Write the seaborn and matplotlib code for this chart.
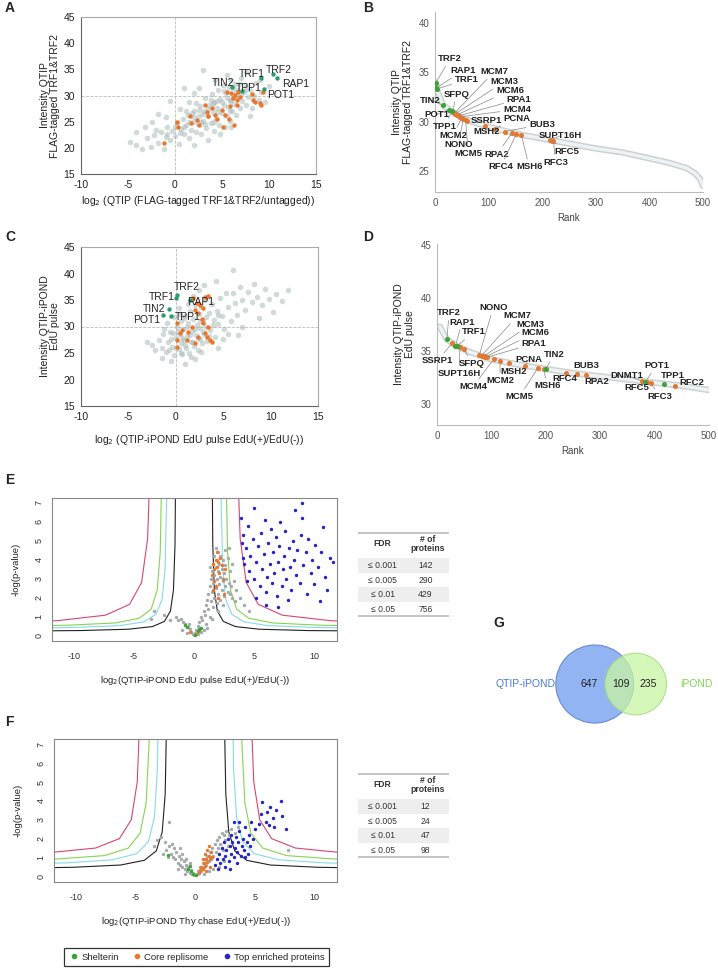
import numpy as np
import seaborn as sns
import matplotlib.pyplot as plt
from matplotlib.lines import Line2D
from matplotlib.patches import Circle

# ---------------- panel A: QTIP intensity vs enrichment ----------------
a_bg = [(-4.8, 21.2), (-4.2, 20.5), (-3.5, 19.8), (-3.0, 21.8), (-2.6, 20.2), (-2.2, 22.5), (-1.8, 21.0),
        (-1.5, 23.0), (-1.2, 19.8), (-1.0, 22.0), (-0.8, 24.0), (-0.5, 21.5), (-0.3, 23.2), (0.0, 22.2),
        (0.2, 24.8), (0.4, 20.8), (0.6, 23.6), (0.8, 25.5), (1.0, 22.6), (1.2, 24.3), (1.4, 26.2), (1.5, 21.9),
        (1.7, 23.4), (1.9, 25.0), (2.0, 27.0), (2.2, 23.0), (2.4, 24.6), (2.5, 26.0), (2.7, 28.0), (2.8, 22.6),
        (3.0, 25.2), (3.1, 27.0), (3.2, 29.5), (3.3, 23.8), (3.5, 26.0), (3.6, 28.2), (3.8, 24.8), (3.9, 30.2),
        (4.0, 26.8), (4.1, 23.2), (4.2, 28.8), (4.4, 25.6), (4.5, 27.6), (4.6, 31.0), (4.7, 24.4), (4.8, 29.4),
        (5.0, 26.6), (5.1, 32.0), (5.2, 28.2), (5.3, 24.0), (5.4, 30.4), (5.5, 26.0), (5.6, 27.8), (5.7, 31.6),
        (5.8, 29.0), (5.9, 25.2), (6.0, 33.0), (6.1, 27.0), (6.2, 30.0), (6.3, 28.4), (6.4, 32.2), (6.5, 26.2),
        (6.6, 29.6), (6.7, 31.0), (6.9, 27.6), (7.0, 33.4), (7.1, 29.0), (7.3, 30.6), (7.5, 28.2), (7.6, 32.0),
        (7.8, 29.8), (8.0, 31.0), (8.2, 27.6), (8.4, 30.0), (8.6, 32.4), (8.9, 29.2), (9.2, 30.6), (9.6, 28.8),
        (3.0, 34.8), (1.0, 31.5), (-0.5, 29.0), (2.0, 30.5), (-1.8, 26.5), (-3.2, 24.0), (0.5, 27.5), (1.5, 28.8),
        (2.6, 31.5), (4.3, 33.0), (5.5, 34.0), (-4.2, 23.0), (-2.5, 25.0), (-1.0, 25.8), (7.5, 34.5), (9.0, 33.0),
        (6.0, 24.0), (4.8, 22.6), (3.5, 21.5), (2.0, 20.5), (8.0, 26.0), (10.0, 31.8),
        (0.5, 22.8), (1.0, 24.0), (1.5, 25.0), (2.0, 25.8), (2.5, 27.2), (3.0, 26.4), (3.5, 27.4), (4.0, 28.4),
        (4.5, 29.0), (5.0, 28.8), (5.5, 29.6), (6.0, 29.2), (6.5, 30.6), (7.0, 30.2), (7.5, 31.2), (3.8, 29.2),
        (2.8, 25.0), (1.8, 26.6), (4.6, 26.8), (5.2, 30.8), (6.8, 32.2), (0.0, 24.0), (-0.8, 22.6), (-2.0, 23.4),
        (3.2, 24.6), (4.2, 25.0), (5.8, 27.0), (2.2, 28.6), (1.2, 27.0), (6.2, 31.4)]
a_rep = [(-1.17, 21.0), (0.18, 25.0), (0.35, 23.9), (1.6, 26.1), (1.7, 24.7), (2.3, 25.3), (2.5, 24.4),
         (3.2, 28.2), (3.4, 26.9), (3.5, 26.0), (3.9, 27.6), (4.3, 26.3), (4.5, 25.6), (5.0, 27.2), (5.1, 24.0),
         (5.3, 26.3), (5.5, 30.7), (5.7, 25.6), (5.85, 27.9), (6.0, 30.4), (6.2, 29.5), (6.3, 24.4), (6.4, 30.1),
         (6.6, 29.2), (6.6, 28.2), (6.7, 30.7), (6.9, 29.8), (8.2, 30.3), (8.3, 29.2), (8.5, 28.8), (9.0, 28.6),
         (9.1, 28.2), (9.4, 30.7)]
a_shel_names = ['TRF1', 'TRF2', 'RAP1', 'POT1', 'TPP1', 'TIN2']
a_shel = [(9.2, 33.4), (10.4, 34.1), (10.9, 33.3), (9.5, 31.2), (7.1, 30.9), (6.1, 31.6)]
a_shel_text = [(8.2, 34.1), (11.0, 34.9), (12.8, 32.2), (11.2, 30.1), (7.9, 31.4), (5.1, 32.3)]

# ---------------- panel C: QTIP-iPOND EdU pulse ----------------
c_bg = [(-2.5, 26.5), (-2.2, 25.5), (-1.8, 27.5), (-1.5, 26.0), (-1.3, 28.5), (-1.0, 25.2), (-0.8, 27.0),
        (-0.6, 29.0), (-0.4, 26.2), (-0.2, 24.6), (0.0, 27.8), (0.1, 30.0), (0.3, 25.8), (0.4, 28.6), (0.5, 26.8),
        (0.6, 31.0), (0.7, 24.8), (0.8, 29.6), (0.9, 27.4), (1.0, 32.0), (1.1, 26.0), (1.2, 28.2), (1.3, 30.6),
        (1.4, 25.0), (1.5, 33.0), (1.6, 27.0), (1.7, 29.2), (1.8, 31.4), (1.9, 26.4), (2.0, 34.0), (2.1, 28.4),
        (2.2, 30.2), (2.3, 25.6), (2.4, 32.4), (2.5, 27.6), (2.6, 29.8), (2.7, 33.6), (2.8, 26.8), (2.9, 31.0),
        (3.0, 28.6), (3.1, 35.0), (3.2, 30.0), (3.3, 27.2), (3.5, 32.6), (3.6, 29.4), (3.8, 34.2), (4.0, 31.2),
        (4.1, 28.0), (4.3, 33.0), (4.5, 30.4), (4.7, 35.4), (4.9, 32.0), (5.1, 29.6), (5.3, 36.4), (5.5, 33.6),
        (5.8, 31.0), (6.0, 36.3), (6.0, 40.7), (6.2, 34.4), (6.5, 32.2), (6.8, 37.4), (7.0, 35.0), (7.3, 33.2),
        (7.6, 36.6), (8.0, 34.6), (8.3, 38.0), (8.6, 35.6), (9.1, 34.1), (9.4, 37.0), (9.8, 35.2), (10.3, 32.8),
        (10.6, 36.2), (11.2, 34.8), (11.8, 36.8), (7.0, 30.0), (5.0, 27.6), (-0.5, 23.4), (1.0, 23.0), (2.0, 23.8),
        (-1.5, 24.0), (0.3, 33.4), (-0.2, 31.8), (1.8, 35.8), (3.0, 37.8), (4.5, 26.0), (-3.0, 27.0), (2.4, 36.8),
        (5.5, 28.6), (-0.9, 30.6), (6.6, 28.4), (4.2, 38.6), (8.8, 31.6),
        (-0.5, 27.6), (0.0, 26.0), (0.2, 29.0), (0.5, 25.0), (0.7, 27.9), (1.0, 26.6), (1.2, 30.0), (1.5, 28.4),
        (1.8, 27.0), (2.0, 29.6), (2.3, 27.8), (2.6, 31.0), (2.9, 29.0), (3.2, 31.8), (3.5, 28.2), (0.9, 31.6),
        (-1.2, 29.6), (-0.3, 28.8), (1.6, 24.2), (2.7, 25.2), (3.9, 30.2), (4.4, 32.2), (0.4, 32.4), (1.3, 34.2),
        (-0.7, 25.6)]
c_rep = [(0.09, 30.6), (0.09, 27.45), (0.09, 26.2), (0.44, 28.7), (1.32, 29.0), (1.68, 30.0), (2.03, 33.1),
         (2.2, 34.4), (2.37, 32.5), (2.73, 31.5), (2.9, 30.6), (3.08, 35.6), (3.43, 35.75), (3.08, 28.7),
         (3.26, 28.1), (3.6, 27.45), (3.8, 27.1), (2.37, 28.1), (2.03, 26.8), (3.43, 30.0), (1.85, 35.3),
         (2.55, 34.0), (2.9, 33.4), (1.15, 27.45), (0.62, 29.3)]
c_shel_names = ['TRF2', 'TRF1', 'RAP1', 'TIN2', 'POT1', 'TPP1']
c_shel = [(0.16, 35.9), (0.0, 35.3), (1.5, 35.0), (-0.68, 33.3), (-1.3, 32.2), (-0.54, 32.0)]
c_shel_text = [(1.15, 37.5), (-1.5, 35.5), (2.6, 34.7), (-2.3, 33.3), (-3.1, 31.2), (1.3, 31.85)]

# ---------------- panel B: rank plot QTIP ----------------
b_curve_rank = [1, 5, 15, 30, 50, 75, 100, 150, 200, 250, 300, 350, 400, 440, 470, 485, 495, 500]
b_curve_int = [34.0, 33.0, 31.7, 31.1, 30.4, 29.9, 29.5, 28.8, 28.3, 27.8, 27.3, 26.9, 26.3, 25.8, 25.3, 24.8, 24.2, 23.5]
b_names = ['TRF2', 'RAP1', 'TRF1', 'TIN2', 'POT1', 'TPP1', 'SFPQ', 'MCM7', 'MCM3', 'MCM6', 'RPA1', 'MCM4',
           'MCM2', 'NONO', 'MCM5', 'SSRP1', 'MSH2', 'PCNA', 'BUB3', 'RPA2', 'RFC4', 'MSH6', 'SUPT16H', 'RFC5', 'RFC3']
b_shelterin = 6
b_rank = [1, 2, 3, 14, 26, 31, 33, 36, 38, 41, 44, 47, 50, 53, 57, 60, 93, 112, 130, 144, 152, 161, 215, 218, 221]
b_int = [33.9, 33.4, 33.3, 31.7, 31.2, 31.05, 30.95, 30.85, 30.8, 30.7, 30.6, 30.5, 30.4, 30.3, 30.2, 30.1,
         29.6, 29.3, 29.0, 28.9, 28.8, 28.7, 28.15, 28.1, 28.05]
b_text = [(6, 36.4), (29, 35.2), (37, 34.3), (-28, 32.2), (-20, 30.75), (-4, 29.57), (15.5, 32.8), (85, 35.1),
          (104, 34.1), (115, 33.2), (134, 32.3), (127, 31.25), (7.5, 28.66), (17, 27.75), (36, 26.8), (67, 30.1),
          (71.5, 29.0), (127.5, 30.35), (176, 29.74), (93, 26.74), (99.5, 25.45), (151, 25.45), (194, 28.59),
          (222.7, 26.97), (202, 25.9)]

# ---------------- panel D: rank plot QTIP-iPOND ----------------
d_curve_rank = [5, 18, 35, 60, 100, 150, 200, 250, 300, 350, 400, 450, 500]
d_curve_int = [37.3, 36.1, 35.5, 34.9, 34.2, 33.7, 33.3, 32.9, 32.6, 32.3, 32.0, 31.7, 31.3]
d_names = ['TRF2', 'RAP1', 'TRF1', 'TIN2', 'POT1', 'TPP1', 'SSRP1', 'SUPT16H', 'SFPQ', 'NONO', 'MCM7', 'MCM3',
           'MCM6', 'RPA1', 'MCM4', 'MCM2', 'MSH2', 'PCNA', 'MCM5', 'MSH6', 'RFC4', 'BUB3', 'RPA2', 'DNMT1',
           'RFC5', 'RFC3', 'RFC2']
d_shelterin = 6
d_rank = [18, 34, 37, 200, 383, 418, 27, 42, 50, 78, 82, 86, 89, 92, 104, 116, 132, 162, 185, 196, 238, 258,
          273, 377, 386, 393, 437]
d_int = [36.1, 35.5, 35.45, 33.3, 32.1, 31.85, 35.7, 35.35, 35.15, 34.65, 34.55, 34.5, 34.45, 34.4, 34.2,
         34.05, 33.85, 33.55, 33.35, 33.3, 32.95, 32.8, 32.7, 32.15, 32.05, 32.0, 31.7]
d_text = [(0.6, 38.6), (22.7, 37.7), (45, 36.8), (197, 34.7), (381, 33.6), (412, 32.65), (-28, 34.05),
          (1.2, 32.9), (40.4, 33.8), (77.2, 39.1), (122, 38.3), (146.4, 37.5), (155.6, 36.7), (155.6, 35.7),
          (40.4, 31.6), (90, 32.2), (115.8, 33.1), (143.4, 34.2), (126.2, 30.7), (178.3, 31.7), (212, 32.4),
          (250.6, 33.6), (270, 32.1), (318, 32.7), (344, 31.5), (386.6, 30.65), (445, 32.0)]

# ---------------- panel E: volcano EdU pulse ----------------
e_bg = [(0.0, 0.05), (0.1, 0.15), (-0.1, 0.1), (0.2, 0.3), (-0.2, 0.2), (0.3, 0.5), (-0.3, 0.35), (0.4, 0.7),
        (-0.5, 0.45), (0.5, 0.4), (0.6, 1.0), (-0.7, 0.6), (0.7, 0.8), (0.8, 1.3), (-0.9, 0.7), (0.9, 1.1),
        (1.0, 1.6), (-1.1, 0.9), (1.0, 0.6), (1.1, 1.9), (-1.3, 0.8), (1.2, 1.4), (1.2, 2.2), (-1.5, 1.0),
        (1.3, 2.6), (1.3, 1.0), (1.4, 1.8), (1.4, 3.0), (1.5, 2.3), (1.5, 3.4), (1.6, 1.5), (1.6, 2.8), (1.6, 3.8),
        (1.7, 2.0), (1.7, 3.2), (1.7, 4.2), (1.8, 2.5), (1.8, 3.6), (1.8, 4.6), (1.9, 1.7), (1.9, 3.0), (1.9, 4.0),
        (2.0, 2.2), (2.0, 3.4), (2.0, 4.4), (2.1, 2.7), (2.1, 3.8), (2.2, 1.9), (2.2, 3.1), (2.2, 4.2), (2.3, 2.4),
        (2.3, 3.5), (2.4, 2.9), (2.4, 4.0), (2.5, 2.1), (2.5, 3.3), (2.6, 2.6), (2.6, 3.7), (2.7, 3.0), (2.8, 2.3),
        (2.8, 4.1), (2.9, 2.8), (3.0, 2.2), (3.0, 3.4), (3.1, 2.6), (3.2, 2.0), (3.3, 2.9), (3.4, 1.8), (3.5, 2.4),
        (2.9, 4.6), (3.2, 3.8), (1.5, 0.9), (2.0, 1.3), (1.1, 0.4), (0.8, 0.3), (-0.6, 0.15), (-0.4, 0.6),
        (-1.0, 0.3), (-2.5, 1.1), (-3.3, 1.3), (-3.6, 0.9), (-2.0, 0.8), (0.3, 0.1), (0.6, 0.2), (2.4, 1.6),
        (3.8, 2.0), (4.2, 1.6), (4.6, 1.3), (2.6, 4.5), (1.3, 3.6)]
e_rep = [(1.6, 3.8), (1.7, 3.5), (1.8, 4.0), (1.9, 3.6), (2.0, 3.9), (2.1, 3.3), (1.7, 2.9), (1.8, 2.6),
         (2.2, 4.1), (2.4, 3.0), (2.5, 2.2), (1.6, 2.4), (1.5, 3.2), (2.3, 3.7), (0.2, 0.1), (0.4, 0.3),
         (-0.3, 0.2), (2.0, 2.0), (2.6, 3.5), (1.9, 4.4)]
e_shel = [(-0.7, 0.55), (-0.6, 0.45), (0.3, 0.25), (0.4, 0.35), (0.6, 0.4), (0.1, 0.05)]
e_top = [(3.9, 6.2), (4.0, 4.9), (4.1, 4.1), (4.1, 5.3), (4.2, 3.8), (4.3, 4.6), (4.5, 5.8), (4.6, 3.4),
         (4.7, 4.2), (4.9, 5.1), (5.0, 6.7), (5.0, 3.0), (5.2, 3.9), (5.3, 4.7), (5.5, 2.6), (5.6, 5.4), (5.7, 3.5),
         (5.8, 4.3), (5.9, 6.1), (6.0, 2.3), (6.1, 3.1), (6.2, 4.9), (6.3, 3.8), (6.4, 5.6), (6.5, 2.8), (6.6, 4.4),
         (6.7, 3.3), (6.8, 5.2), (6.9, 2.1), (7.0, 3.9), (7.1, 4.7), (7.2, 6.0), (7.3, 2.6), (7.4, 3.5), (7.5, 4.2),
         (7.6, 5.5), (7.7, 3.0), (7.8, 1.9), (7.9, 4.6), (8.0, 3.6), (8.1, 2.4), (8.2, 5.0), (8.3, 4.0), (8.4, 6.6),
         (8.5, 3.2), (8.6, 4.5), (8.8, 2.8), (8.9, 5.3), (9.0, 7.0), (9.0, 6.2), (9.1, 3.7), (9.3, 4.4), (9.4, 2.2),
         (9.5, 5.1), (9.7, 3.3), (9.8, 4.0), (10.0, 2.7), (10.1, 4.8), (10.3, 3.6), (10.5, 1.8), (10.6, 4.4),
         (10.7, 5.7), (10.9, 3.1), (11.1, 2.4), (11.3, 4.1), (11.6, 3.9), (6.0, 1.6), (5.2, 2.0), (4.4, 2.9),
         (7.0, 1.5)]

# ---------------- panel F: volcano Thy chase ----------------
f_bg = [(-0.1, 0.05), (-0.2, 0.2), (-0.3, 0.1), (-0.4, 0.35), (-0.5, 0.2), (-0.6, 0.5), (-0.7, 0.3),
        (-0.8, 0.6), (-0.9, 0.4), (-1.0, 0.8), (-1.1, 0.5), (-1.2, 0.9), (-1.3, 0.6), (-1.4, 1.1), (-1.5, 0.7),
        (-1.6, 1.3), (-1.7, 0.9), (-1.8, 1.5), (-1.9, 1.0), (-2.0, 1.7), (-2.1, 1.2), (-2.2, 1.6), (-2.3, 1.0),
        (-2.5, 1.4), (-2.7, 1.2), (-2.9, 2.1), (-3.2, 1.9), (-3.5, 1.6), (-2.2, 2.9), (-1.1, 1.2), (-0.8, 0.9),
        (-1.5, 0.4), (-0.9, 0.15), (-2.6, 1.8), (-1.3, 1.5), (-0.5, 0.7),
        (0.1, 0.1), (0.2, 0.3), (0.3, 0.2), (0.4, 0.5), (0.5, 0.3), (0.6, 0.7), (0.7, 0.5), (0.8, 0.9), (0.9, 0.6),
        (1.0, 1.1), (1.1, 0.8), (1.2, 1.3), (1.3, 0.9), (1.4, 1.5), (1.5, 1.1), (1.6, 1.7), (1.7, 1.3), (1.8, 1.9),
        (1.9, 1.5), (2.0, 2.1), (2.1, 1.7), (2.2, 2.3), (2.3, 1.4), (2.4, 2.2), (2.5, 1.9), (2.6, 2.4), (2.7, 1.6),
        (2.8, 2.2), (3.0, 2.5), (3.3, 2.3), (2.0, 0.5), (1.5, 0.4), (2.4, 0.8), (1.1, 0.3), (7.8, 1.4), (3.6, 2.6),
        (0.7, 0.15)]
f_rep = [(0.3, 0.2), (0.4, 0.35), (0.5, 0.5), (0.6, 0.4), (0.7, 0.7), (0.8, 0.55), (0.9, 0.9), (1.0, 0.75),
         (1.1, 1.1), (1.2, 0.9), (1.3, 1.3), (0.9, 0.3), (1.0, 1.4), (1.2, 0.5), (0.6, 0.9), (1.4, 1.0), (0.8, 1.2),
         (1.1, 1.6)]
f_shel = [(-0.6, 0.4), (-0.4, 0.3), (-0.2, 0.15), (-2.3, 1.15), (0.0, 0.05), (-0.5, 0.55)]
f_top = [(1.6, 0.6), (1.8, 0.9), (1.9, 0.4), (2.0, 1.2), (2.1, 0.7), (2.2, 1.5), (2.3, 0.9), (2.4, 1.8),
         (2.5, 1.1), (2.5, 0.5), (2.6, 1.4), (2.7, 2.0), (2.8, 0.8), (2.9, 1.6), (3.0, 1.2), (3.0, 2.2), (3.1, 1.8),
         (3.2, 2.9), (3.2, 1.0), (3.3, 1.5), (3.4, 2.1), (3.5, 1.3), (3.6, 1.8), (3.7, 2.4), (3.8, 1.1), (3.9, 1.6),
         (4.0, 2.0), (4.1, 1.4), (4.2, 2.6), (4.3, 1.8), (4.4, 1.2), (4.5, 2.2), (4.6, 1.6), (4.8, 2.0), (5.0, 2.5),
         (4.2, 1.0), (3.5, 0.7), (2.9, 0.4), (5.3, 2.8), (5.6, 3.95), (5.9, 2.9), (6.0, 3.4), (6.2, 2.7), (6.3, 3.7),
         (6.5, 3.1), (6.6, 2.6), (7.2, 4.0), (7.3, 3.2), (7.6, 2.5), (5.5, 3.3), (6.8, 3.5), (4.7, 2.9), (3.7, 2.9)]

# FDR threshold curves: offset from asymptote and -log(p) at that offset
vol_d = [0.06, 0.12, 0.25, 0.5, 1.0, 2.0, 4.0, 8.0, 14.0]
e_curve_x0 = [1.45, 2.15, 2.55, 3.35]
e_curve_y = [[9.4, 4.8, 2.4, 1.3, 0.75, 0.48, 0.34, 0.27, 0.24],
             [13.6, 7.0, 3.5, 1.9, 1.13, 0.73, 0.53, 0.43, 0.39],
             [17.1, 8.75, 4.4, 2.4, 1.4, 0.92, 0.67, 0.55, 0.49],
             [38.8, 19.7, 9.7, 5.1, 2.8, 1.65, 1.08, 0.79, 0.66]]
f_curve_x0 = [2.3, 2.95, 3.65, 4.4]
f_curve_y = [[17.0, 8.7, 4.35, 2.35, 1.35, 0.85, 0.6, 0.48, 0.42],
             [22.2, 11.4, 5.75, 3.15, 1.85, 1.2, 0.88, 0.71, 0.64],
             [27.4, 14.0, 7.1, 3.9, 2.3, 1.5, 1.1, 0.92, 0.83],
             [34.3, 17.7, 9.0, 5.0, 3.0, 2.0, 1.5, 1.25, 1.14]]
curve_colors = ['#222222', '#86dbe4', '#86d450', '#d8466e']

fdr_levels = ['≤ 0.001', '≤ 0.005', '≤ 0.01', '≤ 0.05']
e_counts = [142, 290, 429, 756]
f_counts = [12, 24, 47, 98]

venn_only_qtip, venn_both, venn_only_ipond = 647, 109, 235

GREEN_AC = '#2a9d6c'
GREEN = '#3aa335'
ORANGE = '#e8762c'
BLUE = '#2424cc'

sns.set_theme(style='white')
plt.rcParams['font.family'] = ['Liberation Sans', 'DejaVu Sans']
plt.rcParams['axes.linewidth'] = 0.8
plt.rcParams['axes.unicode_minus'] = False

W, H = 718, 969
fig = plt.figure(figsize=(W / 100, H / 100), dpi=100)


def px_axes(l, t, r, b):
    return fig.add_axes([l / W, 1 - b / H, (r - l) / W, (b - t) / H])


def scatter_panel(ax, bg, rep, shel, names, text_pos, xlabel, ylabel, xpad):
    bg, rep, shel = np.array(bg), np.array(rep), np.array(shel)
    sns.scatterplot(x=bg[:, 0], y=bg[:, 1], ax=ax, color='#a3b7b4', s=16, alpha=0.5,
                    linewidth=0, legend=False)
    sns.scatterplot(x=rep[:, 0], y=rep[:, 1], ax=ax, color=ORANGE, s=10, linewidth=0, legend=False)
    sns.scatterplot(x=shel[:, 0], y=shel[:, 1], ax=ax, color=GREEN_AC, s=10, linewidth=0, legend=False)
    for name, (tx, ty) in zip(names, text_pos):
        ax.text(tx, ty, name, ha='center', va='center', fontsize=7.5, color='#222222')
    ax.axvline(0, ls='--', color='#bbbbbb', lw=0.6, zorder=0)
    ax.axhline(30, ls='--', color='#bbbbbb', lw=0.6, zorder=0)
    ax.set_xlim(-10, 15)
    ax.set_ylim(15, 45)
    ax.set_xticks([-10, -5, 0, 5, 10, 15])
    ax.set_yticks([15, 20, 25, 30, 35, 40, 45])
    ax.tick_params(labelsize=7.5, length=3, width=0.7, colors='#555555', labelcolor='#222222', pad=1.5)
    for s in ['top', 'right']:
        ax.spines[s].set_color('#aaaaaa')
    for s in ['left', 'bottom']:
        ax.spines[s].set_color('#666666')
    ax.set_xlabel(xlabel, fontsize=7.5, labelpad=xpad, color='#222222')
    ax.set_ylabel(ylabel, fontsize=7.5, labelpad=2, color='#222222', linespacing=1.1)


def rank_panel(ax, crank, cint, names, ranks, ints, n_shel, text_pos, ylim, yticks):
    sns.lineplot(x=crank, y=cint, ax=ax, color='#c9d3d2', lw=4.6, solid_capstyle='round')
    sns.lineplot(x=crank, y=cint, ax=ax, color='#eef2f2', lw=2.4, solid_capstyle='round')
    ranks, ints = np.array(ranks), np.array(ints)
    sns.scatterplot(x=ranks[n_shel:], y=ints[n_shel:], ax=ax, color=ORANGE, s=13, linewidth=0,
                    legend=False, zorder=3)
    sns.scatterplot(x=ranks[:n_shel], y=ints[:n_shel], ax=ax, color=GREEN, s=13, linewidth=0,
                    legend=False, zorder=3)
    for name, r, v, (tx, ty) in zip(names, ranks, ints, text_pos):
        ax.annotate(name, xy=(r, v), xytext=(tx, ty), ha='left', va='center', fontsize=6.8,
                    fontweight='bold', color='#222222', annotation_clip=False,
                    arrowprops=dict(arrowstyle='-', color='#888888', lw=0.5, shrinkA=0, shrinkB=1.5))
    ax.set_xlim(0, 500)
    ax.set_ylim(*ylim)
    ax.set_xticks([0, 100, 200, 300, 400, 500])
    ax.set_yticks(yticks)
    ax.tick_params(labelsize=7, length=2.5, width=0.6, colors='#aaaaaa', labelcolor='#555555', pad=1.5)
    for s in ['top', 'right']:
        ax.spines[s].set_visible(False)
    for s in ['left', 'bottom']:
        ax.spines[s].set_color('#bbbbbb')
    ax.set_xlabel('Rank', fontsize=7, color='#444444', labelpad=4)


def volcano_panel(ax, bg, rep, shel, top, curve_x0, curve_y, xlabel):
    for x0, ys, col in zip(curve_x0, curve_y, curve_colors):
        xr = [x0 + d for d in vol_d]
        xl = [-(x0 + d) for d in vol_d]
        sns.lineplot(x=xr, y=ys, ax=ax, color=col, lw=0.8, sort=False, estimator=None)
        sns.lineplot(x=xl, y=ys, ax=ax, color=col, lw=0.8, sort=False, estimator=None)
    for pts, col in [(bg, '#a4aaaa'), (rep, ORANGE), (shel, GREEN), (top, BLUE)]:
        pts = np.array(pts)
        sns.scatterplot(x=pts[:, 0], y=pts[:, 1], ax=ax, color=col, s=6, linewidth=0, legend=False, zorder=3)
    ax.set_xticks([-10, -5, 0, 5, 10])
    ax.set_yticks(range(8))
    ax.tick_params(labelsize=6.5, length=3, width=0.6, colors='#555555', labelcolor='#333333', pad=5)
    ax.tick_params(axis='y', labelrotation=90, pad=3)
    for lab in ax.get_yticklabels():
        lab.set_va('center')
    for s in ax.spines.values():
        s.set_color('#888888')
        s.set_linewidth(0.8)
    ax.set_xlabel(xlabel, fontsize=6.8, labelpad=9, color='#222222')
    ax.set_ylabel('-log(p-value)', fontsize=6.8, labelpad=10, color='#222222')


def fdr_table(ax, counts):
    ax.set_xlim(0, 1)
    ax.set_ylim(4.5, -1.25)
    ax.axis('off')
    for i in (1, 3):
        ax.axhspan(i - 0.5, i + 0.5, color='#eeeeee', lw=0)
    ax.axhline(-1.2, color='#bbbbbb', lw=1.2)
    ax.axhline(4.45, color='#bbbbbb', lw=1.2)
    ax.text(0.27, -0.45, 'FDR', ha='center', va='center', fontsize=6.2, fontweight='bold', color='#333333')
    ax.text(0.77, -0.45, '# of\nproteins', ha='center', va='center', fontsize=6.2, fontweight='bold',
            color='#333333', linespacing=1.05)
    for i, (lvl, n) in enumerate(zip(fdr_levels, counts), start=1):
        ax.text(0.27, i, lvl, ha='center', va='center', fontsize=6.2, color='#333333')
        ax.text(0.74, i, str(n), ha='center', va='center', fontsize=6.2, color='#333333')


# A
axA = px_axes(81, 17, 316, 174)
scatter_panel(axA, a_bg, a_rep, a_shel, a_shel_names, a_shel_text,
              r'log$_2$ (QTIP (FLAG-tagged TRF1&TRF2/untagged))', 'Intensity QTIP\nFLAG-tagged TRF1&TRF2', 3)
# C
axC = px_axes(81, 247, 318, 406)
scatter_panel(axC, c_bg, c_rep, c_shel, c_shel_names, c_shel_text,
              r'log$_2$ (QTIP-iPOND EdU pulse EdU(+)/EdU(-))', 'Intensity QTIP-iPOND\nEdU pulse', 8)
# B
axB = px_axes(435, 12, 703, 192)
rank_panel(axB, b_curve_rank, b_curve_int, b_names, b_rank, b_int, b_shelterin, b_text,
           (22.9, 41.1), [25, 30, 35, 40])
axB.set_ylabel('Intensity QTIP\nFLAG-tagged TRF1&TRF2', fontsize=7.5, color='#222222', labelpad=4,
               linespacing=1.1)
# D
axD = px_axes(437, 244, 709, 425)
rank_panel(axD, d_curve_rank, d_curve_int, d_names, d_rank, d_int, d_shelterin, d_text,
           (28, 45.1), [30, 35, 40, 45])
axD.set_ylabel('Intensity QTIP-iPOND\nEdU pulse', fontsize=7.5, color='#222222', labelpad=4, linespacing=1.1)

# E
axE = px_axes(52, 498, 337, 641)
volcano_panel(axE, e_bg, e_rep, e_shel, e_top, e_curve_x0, e_curve_y,
              r'log$_2$(QTIP-iPOND EdU pulse EdU(+)/EdU(-))')
axE.set_xlim(-11.8, 11.9)
axE.set_ylim(-0.28, 7.25)
# F
axF = px_axes(54, 739, 337, 882)
volcano_panel(axF, f_bg, f_rep, f_shel, f_top, f_curve_x0, f_curve_y,
              r'log$_2$(QTIP-iPOND Thy chase EdU(+)/EdU(-))')
axF.set_xlim(-11.9, 11.9)
axF.set_ylim(-0.3, 7.28)

fdr_table(px_axes(358, 532, 449, 617), e_counts)
fdr_table(px_axes(358, 773, 449, 858), f_counts)

# G: Venn diagram
axG = px_axes(470, 620, 718, 750)
axG.set_xlim(-3.2, 3.16)
axG.set_ylim(-1.69, 1.64)
axG.axis('off')
axG.add_patch(Circle((0, 0), 1.0, facecolor='#7fa7f0', edgecolor='#5b80cf', lw=0.8, alpha=0.85))
axG.add_patch(Circle((1.05, 0), 0.79, facecolor='#c8f5a2', edgecolor='#9ad870', lw=0.8, alpha=0.75))
axG.text(-0.15, 0, str(venn_only_qtip), ha='center', va='center', fontsize=7.5, color='#222222')
axG.text(0.67, 0, str(venn_both), ha='center', va='center', fontsize=7.5, color='#222222')
axG.text(1.36, 0, str(venn_only_ipond), ha='center', va='center', fontsize=7.5, color='#222222')
axG.text(-1.77, 0, 'QTIP-iPOND', ha='center', va='center', fontsize=7.5, color='#4a78d6')
axG.text(2.6, 0, 'iPOND', ha='center', va='center', fontsize=7.5, color='#7ed64e')

# panel letters
for letter, (x, y) in zip('ABCDEFG', [(5, 8), (363, 8), (5, 237), (363, 237), (5, 480), (5, 722), (493, 623)]):
    fig.text(x / W, 1 - y / H, letter, fontsize=10, fontweight='bold', ha='left', va='center')

# legend
handles = [Line2D([], [], ls='', marker='o', ms=4, mec='none', mfc=c) for c in (GREEN, ORANGE, BLUE)]
leg = fig.legend(handles, ['Shelterin', 'Core replisome', 'Top enriched proteins'], loc='center',
                 bbox_to_anchor=(196.5 / W, 1 - 957 / H), ncol=3, fontsize=6.8, frameon=True,
                 fancybox=False, edgecolor='black', handletextpad=0.2, columnspacing=1.3,
                 borderpad=0.45, handlelength=1.2)
leg.get_frame().set_linewidth(0.9)

fig.savefig('out.png', dpi=100)
